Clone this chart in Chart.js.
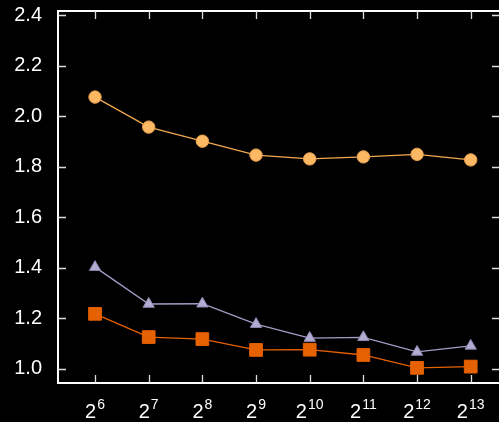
<!DOCTYPE html>
<html>
<head>
<meta charset="utf-8">
<script src="https://cdn.jsdelivr.net/npm/chart.js@4.4.1/dist/chart.umd.min.js"></script>
<style>
  html, body { margin: 0; padding: 0; background: #000; }
  #wrap { width: 499px; height: 422px; }
</style>
</head>
<body>
<div id="wrap"><canvas id="chart1"></canvas></div>
<script>
// x positions are powers of two, stored as exponents
var exponents = [6, 7, 8, 9, 10, 11, 12, 13];
var circleVals = [2.076, 1.957, 1.901, 1.846, 1.831, 1.839, 1.849, 1.827];
var triangleVals = [1.402, 1.256, 1.257, 1.176, 1.121, 1.124, 1.066, 1.090];
var squareVals = [1.217, 1.125, 1.117, 1.074, 1.075, 1.054, 1.003, 1.008];
var yTicks = [1.0, 1.2, 1.4, 1.6, 1.8, 2.0, 2.2, 2.4];

var FONT = '"Liberation Sans", Arial, sans-serif';

function pts(vals) {
    return exponents.map(function (e, i) { return { x: e, y: vals[i] }; });
}

// frame with inward ticks on all four sides + 2^n labels under the x axis
var framePlugin = {
    id: 'frame',
    afterDraw: function (chart) {
        var ctx = chart.ctx;
        var a = chart.chartArea;
        var xs = chart.scales.x, ys = chart.scales.y;
        var tl = 8;
        ctx.save();
        ctx.strokeStyle = '#fff';
        ctx.lineWidth = 2;
        ctx.beginPath();
        ctx.moveTo(a.right + 2, a.top);
        ctx.lineTo(a.left, a.top);
        ctx.lineTo(a.left, a.bottom);
        ctx.lineTo(a.right + 2, a.bottom);
        ctx.stroke();

        ctx.lineWidth = 1.3;
        ctx.strokeStyle = '#ddd';
        ctx.beginPath();
        exponents.forEach(function (e) {
            var px = Math.round(xs.getPixelForValue(e)) + 0.5;
            ctx.moveTo(px, a.bottom); ctx.lineTo(px, a.bottom - tl);
            ctx.moveTo(px, a.top); ctx.lineTo(px, a.top + tl);
        });
        yTicks.forEach(function (v) {
            var py = Math.round(ys.getPixelForValue(v)) + 0.5;
            ctx.moveTo(a.left, py); ctx.lineTo(a.left + tl, py);
            ctx.moveTo(a.right + 1, py); ctx.lineTo(a.right + 1 - tl, py);
        });
        ctx.stroke();

        ctx.fillStyle = '#fff';
        ctx.textBaseline = 'alphabetic';
        ctx.textAlign = 'left';
        var baseFont = '20px ' + FONT, supFont = '14px ' + FONT;
        exponents.forEach(function (e) {
            var px = xs.getPixelForValue(e);
            ctx.font = baseFont;
            var bw = ctx.measureText('2').width;
            ctx.font = supFont;
            var sw = ctx.measureText(String(e)).width;
            var x0 = px - (bw + 1 + sw) / 2;
            ctx.font = baseFont;
            ctx.fillText('2', x0, 418);
            ctx.font = supFont;
            ctx.fillText(String(e), x0 + bw + 1, 409);
        });
        ctx.restore();
    }
};

var myChart = document.getElementById('chart1').getContext('2d');
var mainChart = new Chart(myChart, {
    type: 'line',
    data: {
        datasets: [{
            label: 'circles',
            data: pts(circleVals),
            borderColor: '#f0a94e',
            backgroundColor: '#fdb863',
            pointBackgroundColor: '#fdb863',
            pointBorderColor: '#e9a24f',
            pointStyle: 'circle',
            pointRadius: 6.2,
            borderWidth: 1.3,
            pointBorderWidth: 1
        }, {
            label: 'triangles',
            data: pts(triangleVals),
            borderColor: '#a39dc6',
            backgroundColor: '#b2abd2',
            pointBackgroundColor: '#b2abd2',
            pointBorderColor: '#8e88b0',
            pointStyle: 'triangle',
            pointRadius: 6.5,
            borderWidth: 1.3,
            pointBorderWidth: 1
        }, {
            label: 'squares',
            data: pts(squareVals),
            borderColor: '#e66101',
            backgroundColor: '#e66101',
            pointBackgroundColor: '#e66101',
            pointBorderColor: '#e66101',
            pointStyle: 'rect',
            pointRadius: 9,
            borderWidth: 1.3,
            pointBorderWidth: 1
        }]
    },
    options: {
        responsive: true,
        maintainAspectRatio: false,
        animation: false,
        layout: { autoPadding: false, padding: { top: 11, right: 0, left: 0, bottom: 0 } },
        plugins: { legend: { display: false }, tooltip: { enabled: false } },
        elements: { line: { tension: 0 } },
        scales: {
            x: {
                type: 'linear',
                min: 5.31,
                max: 13.527,
                grid: { display: false },
                border: { display: false },
                ticks: { display: false },
                afterFit: function (s) {
                    s.height = 39;
                    s.paddingLeft = 0;
                    s.paddingRight = 0;
                }
            },
            y: {
                min: 0.943,
                max: 2.417,
                grid: { display: false },
                border: { display: false },
                afterBuildTicks: function (s) {
                    s.ticks = yTicks.map(function (v) { return { value: v }; });
                },
                afterFit: function (s) {
                    s.width = 58;
                    s.paddingTop = 0;
                    s.paddingBottom = 0;
                },
                ticks: {
                    color: '#fff',
                    padding: 8,
                    font: { family: FONT, size: 20 },
                    callback: function (v) { return Number(v).toFixed(1); }
                }
            }
        }
    },
    plugins: [framePlugin]
});
</script>
</body>
</html>
